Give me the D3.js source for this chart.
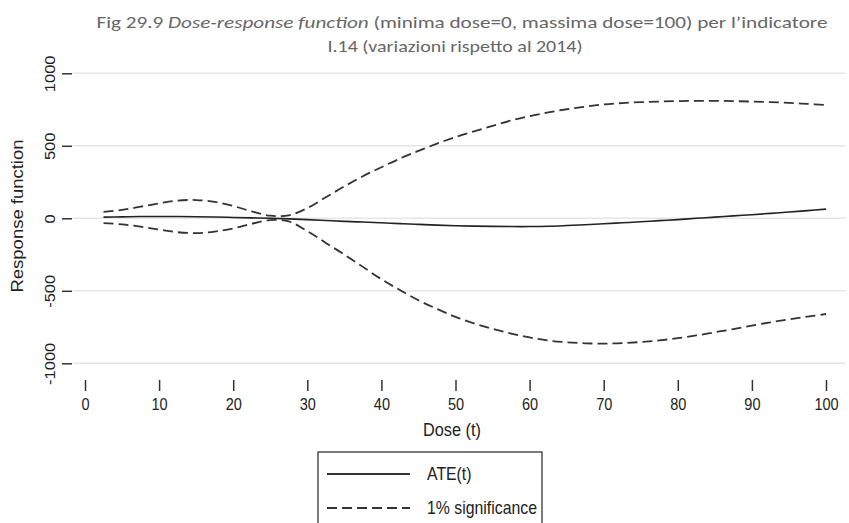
<!DOCTYPE html>
<html><head><meta charset="utf-8">
<script src="https://cdn.jsdelivr.net/npm/d3@7"></script>
<style>body{margin:0;background:#fff}svg{display:block}</style>
</head><body><svg id="c" width="849" height="523"></svg>
<script>
const dose  = [2.5,5,7.5,10,12.5,15,17.5,20,22.5,25,27.5,30,32.5,35,37.5,40,42.5,45,47.5,50,52.5,55,57.5,60,62.5,65,67.5,70,72.5,75,77.5,80,82.5,85,87.5,90,92.5,95,97.5,100];
const ate   = [8,10,12,12,12,11,9,6,3,0,-4,-9,-15,-21,-26,-31,-37,-42,-47,-51,-54,-56,-57,-57,-55,-50,-44,-38,-31,-24,-16,-9,0,8,17,25,34,43,53,63];
const upper = [45,58,80,103,122,126,113,85,48,18,20,70,145,220,290,352,412,465,515,560,600,637,675,705,730,752,770,785,795,801,805,808,810,810,808,805,801,796,789,782];
const lower = [-33,-42,-58,-78,-96,-102,-92,-70,-38,-12,-22,-88,-170,-250,-335,-420,-495,-565,-625,-680,-725,-762,-795,-822,-843,-855,-862,-864,-861,-853,-842,-827,-808,-786,-764,-740,-717,-697,-678,-660];
const xTicks = [0,10,20,30,40,50,60,70,80,90,100];
const yTicks = [-1000,-500,0,500,1000];
const seriesNames = ["ATE(t)","1% significance"];
const xTitle = "Dose (t)";
const yTitle = "Response function";

const svg = d3.select("#c");
const x = d3.scaleLinear().domain([0,100]).range([85,826]);
const y = d3.scaleLinear().domain([-1000,1000]).range([363.3,73.3]);
const gridX0 = 73, gridX1 = 845;
const tickFont = "'Liberation Sans', Arial, sans-serif";
const sq = 0.88;

// title
const title = svg.append("g").attr("fill","#666").style("font-family","Carlito, Lato, 'Open Sans', sans-serif").style("font-size","16px");
const t1 = title.append("text").attr("x",462).attr("y",28).attr("text-anchor","middle")
  .attr("textLength",731).attr("lengthAdjust","spacingAndGlyphs");
t1.append("tspan").text("Fig 29.9 ");
t1.append("tspan").style("font-style","italic").text("Dose-response  function");
t1.append("tspan").text(" (minima dose=0, massima dose=100) per l\u2019indicatore");
title.append("text").attr("x",455).attr("y",52).attr("text-anchor","middle")
  .attr("textLength",255).attr("lengthAdjust","spacingAndGlyphs")
  .text("I.14 (variazioni rispetto al 2014)");

// grid
svg.append("g").selectAll("line").data(yTicks).join("line")
  .attr("x1",gridX0).attr("x2",gridX1).attr("y1",d=>y(d)).attr("y2",d=>y(d))
  .attr("stroke","#e6e6e6").attr("stroke-width",1.5);

// y axis
const ya = svg.append("g").attr("transform","translate(72,0)")
  .call(d3.axisLeft(y).tickValues(yTicks).tickSize(10).tickFormat(d => String(d)));
ya.select(".domain").remove();
ya.selectAll("line").attr("stroke","#333").attr("stroke-width",1.5);
ya.selectAll("text").attr("x",null).attr("dy",null).attr("text-anchor","middle")
  .attr("transform",`translate(-17,0) scale(${sq},1) rotate(-90)`)
  .style("font-family",tickFont).style("font-size","16.5px").attr("fill","#222");

// x axis
const xa = svg.append("g").attr("transform","translate(0,380)")
  .call(d3.axisBottom(x).tickValues(xTicks).tickSize(11).tickPadding(7));
xa.select(".domain").remove();
xa.selectAll("line").attr("stroke","#333").attr("stroke-width",1.5);
xa.selectAll("text").attr("transform",`scale(${sq},1)`)
  .style("font-family",tickFont).style("font-size","16.5px").attr("fill","#222");

// axis titles
svg.append("text").attr("transform",`translate(23,216) scale(${sq},1) rotate(-90)`).attr("text-anchor","middle")
  .style("font-family",tickFont).style("font-size","18.5px").attr("fill","#222").text(yTitle);
svg.append("text").attr("transform",`translate(452,436) scale(${sq},1)`).attr("text-anchor","middle")
  .style("font-family",tickFont).style("font-size","18.5px").attr("fill","#222").text(xTitle);

// lines
const line = d3.line().x((d,i)=>x(dose[i])).y(d=>y(d)).curve(d3.curveCatmullRom);
svg.append("path").datum(upper).attr("d",line).attr("fill","none").attr("stroke","#333").attr("stroke-width",1.8).attr("stroke-dasharray","10,5");
svg.append("path").datum(lower).attr("d",line).attr("fill","none").attr("stroke","#333").attr("stroke-width",1.8).attr("stroke-dasharray","10,5");
svg.append("path").datum(ate).attr("d",line).attr("fill","none").attr("stroke","#222").attr("stroke-width",1.6);

// legend
const lg = svg.append("g");
lg.append("rect").attr("x",318).attr("y",452).attr("width",224).attr("height",90)
  .attr("fill","#fff").attr("stroke","#222").attr("stroke-width",1.2);
const rows = [{dash:null,y:474},{dash:"10,5",y:508}];
rows.forEach((r,i)=>{
  lg.append("line").attr("x1",327).attr("x2",410).attr("y1",r.y).attr("y2",r.y)
    .attr("stroke","#333").attr("stroke-width",1.8).attr("stroke-dasharray",r.dash);
  lg.append("text").attr("transform",`translate(427,${r.y}) scale(${sq},1)`).attr("dy","0.35em")
    .style("font-family",tickFont).style("font-size","18px").attr("fill","#222").text(seriesNames[i]);
});
</script></body></html>
